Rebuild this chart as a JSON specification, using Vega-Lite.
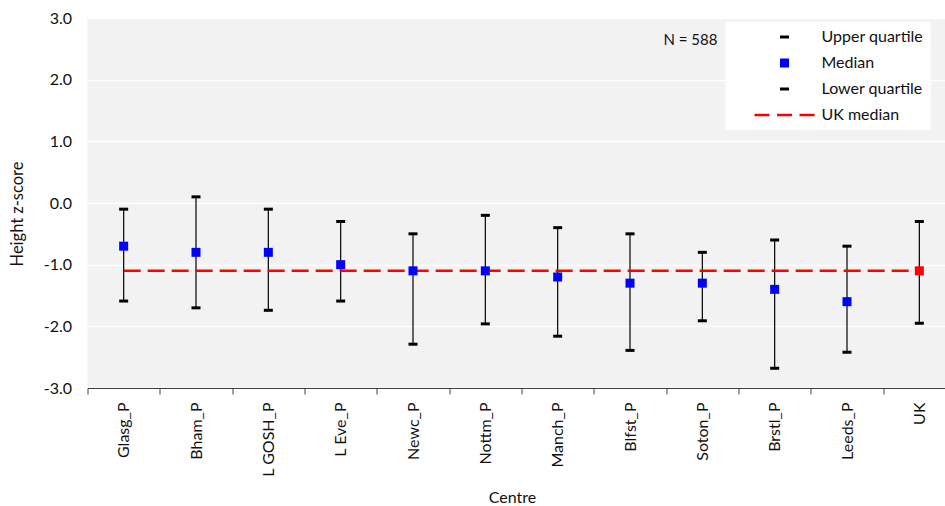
{
  "$schema": "https://vega.github.io/schema/vega-lite/v6.json",
  "width": 868,
  "height": 370,
  "autosize": {"type": "none"},
  "padding": {"left": 87.5, "top": 18, "right": 0, "bottom": 118},
  "background": "white",
  "config": {
    "locale": {"number": {"decimal": ".", "thousands": ",", "grouping": [3], "currency": ["", ""], "minus": "-"}},
    "view": {"fill": "#f2f2f2", "stroke": null},
    "font": "Lato",
    "axisY": {
      "titleFontSize": 16.5,
      "titleFontWeight": "normal",
      "titleColor": "#111",
      "titleX": -70.5,
      "titleY": 195.5,
      "titleAngle": -90,
      "titleAlign": "center",
      "titleBaseline": "middle",
      "labelFontSize": 16,
      "labelColor": "#111",
      "grid": true,
      "gridColor": "white",
      "gridWidth": 1.5,
      "domain": false,
      "ticks": false,
      "labelPadding": 16
    },
    "axisX": {
      "titleFontSize": 16,
      "titleFontWeight": "normal",
      "titleColor": "#111",
      "titleX": 424.5,
      "titleY": 109.5,
      "titleBaseline": "middle",
      "labelAngle": -90,
      "labelAlign": "right",
      "labelBaseline": "middle",
      "labelFontSize": 16,
      "labelColor": "#111",
      "labelPadding": 8,
      "domainColor": "#404040",
      "tickColor": "#404040",
      "tickSize": 6,
      "tickBand": "extent",
      "grid": false
    },
    "legend": {
      "orient": "none",
      "legendX": 638,
      "legendY": 4,
      "fillColor": "white",
      "padding": 7,
      "labelFontSize": 16,
      "labelFont": "Lato",
      "labelColor": "#111",
      "rowPadding": 10,
      "symbolSize": 100,
      "symbolOffset": 44,
      "labelOffset": 29,
      "symbolStrokeWidth": 0
    }
  },
  "data": {
    "values": [
      {"centre": "Glasg_P", "Upper quartile": -0.1, "Median": -0.7, "Lower quartile": -1.59},
      {"centre": "Bham_P", "Upper quartile": 0.1, "Median": -0.8, "Lower quartile": -1.7},
      {"centre": "L GOSH_P", "Upper quartile": -0.1, "Median": -0.8, "Lower quartile": -1.74},
      {"centre": "L Eve_P", "Upper quartile": -0.3, "Median": -1.0, "Lower quartile": -1.59},
      {"centre": "Newc_P", "Upper quartile": -0.5, "Median": -1.1, "Lower quartile": -2.29},
      {"centre": "Nottm_P", "Upper quartile": -0.2, "Median": -1.1, "Lower quartile": -1.96},
      {"centre": "Manch_P", "Upper quartile": -0.4, "Median": -1.2, "Lower quartile": -2.16},
      {"centre": "Blfst_P", "Upper quartile": -0.5, "Median": -1.3, "Lower quartile": -2.39},
      {"centre": "Soton_P", "Upper quartile": -0.8, "Median": -1.3, "Lower quartile": -1.91},
      {"centre": "Brstl_P", "Upper quartile": -0.6, "Median": -1.4, "Lower quartile": -2.68},
      {"centre": "Leeds_P", "Upper quartile": -0.7, "Median": -1.6, "Lower quartile": -2.42},
      {"centre": "UK", "Upper quartile": -0.3, "Median": -1.1, "Lower quartile": -1.95}
    ]
  },
  "encoding": {
    "x": {
      "field": "centre",
      "type": "nominal",
      "sort": null,
      "title": "Centre",
      "scale": {
        "domain": ["Glasg_P", "Bham_P", "L GOSH_P", "L Eve_P", "Newc_P", "Nottm_P", "Manch_P", "Blfst_P", "Soton_P", "Brstl_P", "Leeds_P", "UK"],
        "paddingInner": 0,
        "paddingOuter": 0
      }
    }
  },
  "layer": [
    {
      "mark": {"type": "rule", "color": "black", "strokeWidth": 1.2},
      "encoding": {
        "y": {
          "field": "Lower quartile",
          "type": "quantitative",
          "title": "Height z-score",
          "scale": {"domain": [-3, 3], "nice": false, "zero": false},
          "axis": {"format": ".1f", "values": [-3, -2, -1, 0, 1, 2, 3]}
        },
        "y2": {"field": "Upper quartile"}
      }
    },
    {
      "mark": {"type": "line", "color": "#ff0000", "strokeWidth": 2.5, "strokeDash": [17, 7]},
      "encoding": {"y": {"datum": -1.1, "type": "quantitative"}}
    },
    {
      "transform": [
        {"fold": ["Upper quartile", "Lower quartile", "Median"], "as": ["stat", "value"]},
        {"filter": "datum.centre !== 'UK' || datum.stat !== 'Median'"}
      ],
      "mark": {"type": "point", "filled": true, "opacity": 1, "size": 100, "strokeWidth": 0},
      "encoding": {
        "y": {"field": "value", "type": "quantitative"},
        "color": {
          "field": "stat",
          "type": "nominal",
          "scale": {
            "domain": ["Upper quartile", "Median", "Lower quartile", "UK median"],
            "range": ["#000000", "#0000ff", "#000000", "#ff0000"]
          },
          "legend": {"title": null}
        },
        "shape": {
          "field": "stat",
          "type": "nominal",
          "scale": {
            "domain": ["Upper quartile", "Median", "Lower quartile", "UK median"],
            "range": [
              "M-0.9,-0.3H0.9V0.3H-0.9Z",
              "M-0.9,-0.9H0.9V0.9H-0.9Z",
              "M-0.9,-0.3H0.9V0.3H-0.9Z",
              "M-6,-0.25H-3V0.25H-6Z M-1.5,-0.25H1.5V0.25H-1.5Z M3,-0.25H6V0.25H3Z"
            ]
          },
          "legend": {"title": null}
        }
      }
    },
    {
      "transform": [{"filter": "datum.centre === 'UK'"}],
      "mark": {"type": "point", "filled": true, "opacity": 1, "size": 100, "strokeWidth": 0, "color": "#ff0000", "shape": "M-0.9,-0.9H0.9V0.9H-0.9Z"},
      "encoding": {"y": {"field": "Median", "type": "quantitative"}}
    },
    {
      "data": {"values": [{"label": "N = 588"}]},
      "mark": {"type": "text", "align": "right", "baseline": "middle", "dx": 15, "fontSize": 15, "color": "#111"},
      "encoding": {
        "x": {"datum": "Soton_P"},
        "y": {"datum": 2.65, "type": "quantitative"},
        "text": {"field": "label"}
      }
    }
  ]
}
